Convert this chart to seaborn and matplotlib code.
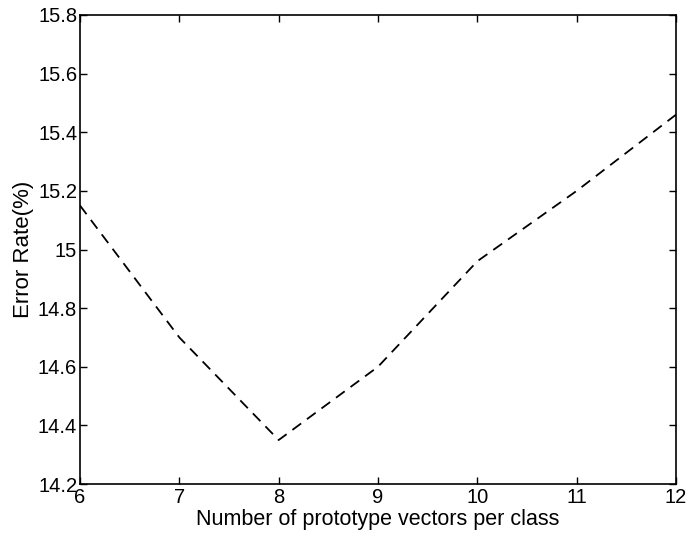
import matplotlib
matplotlib.use("Agg")
import matplotlib.pyplot as plt
import seaborn as sns
import pandas as pd

prototypes = [6, 7, 8, 9, 10, 11, 12]
error_rate = [15.15, 14.70, 14.35, 14.60, 14.96, 15.20, 15.46]
x_ticks = [6, 7, 8, 9, 10, 11, 12]
y_ticks = [14.2, 14.4, 14.6, 14.8, 15.0, 15.2, 15.4, 15.6, 15.8]
y_tick_labels = ["14.2", "14.4", "14.6", "14.8", "15", "15.2", "15.4", "15.6", "15.8"]

sns.set_theme(style="white")
plt.rcParams['font.family'] = ['Liberation Sans', 'DejaVu Sans']

df = pd.DataFrame({"x": prototypes, "y": error_rate})

fig = plt.figure(figsize=(6.88, 5.35), dpi=100)
ax = fig.add_axes([80/688, 51/535, 596/688, 469/535])
sns.lineplot(data=df, x="x", y="y", ax=ax, color="black", linewidth=1.3,
             linestyle=(0, (6, 4)))
ax.set_xlim(6, 12)
ax.set_ylim(14.2, 15.8)
ax.set_xticks(x_ticks)
ax.set_xticklabels([str(v) for v in x_ticks])
ax.set_yticks(y_ticks)
ax.set_yticklabels(y_tick_labels)
ax.tick_params(direction="in", length=5, width=1, top=True, right=True,
               labelsize=14.5, colors="black", bottom=True, left=True)
ax.tick_params(axis="x", pad=3)
ax.tick_params(axis="y", pad=2)
for s in ax.spines.values():
    s.set_color("black")
    s.set_linewidth(1.2)
ax.set_xlabel("Number of prototype vectors per class", fontsize=15.5, labelpad=1, color="black")
ax.set_ylabel("Error Rate(%)", fontsize=16, labelpad=3, color="black")
fig.savefig("out.png", dpi=100)
